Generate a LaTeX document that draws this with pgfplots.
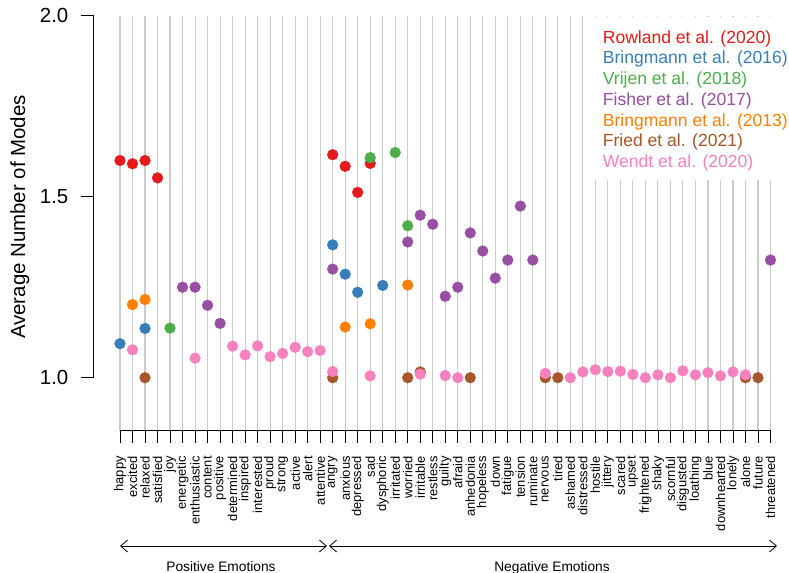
\documentclass[border=0pt]{standalone}
\usepackage{pgfplots}
\pgfplotsset{compat=1.18}
\usepackage{fontspec}
\setmainfont{Liberation Sans}
\usetikzlibrary{arrows.meta}

% ColorBrewer Set1
\definecolor{cRow}{HTML}{E41A1C}
\definecolor{cBr16}{HTML}{377EB8}
\definecolor{cVri}{HTML}{4DAF4A}
\definecolor{cFis}{HTML}{984EA3}
\definecolor{cBr13}{HTML}{FF7F00}
\definecolor{cFri}{HTML}{A65628}
\definecolor{cWen}{HTML}{F781BF}
\definecolor{gridgray}{HTML}{CCCCCC}

\begin{document}
\begin{tikzpicture}[x=1bp,y=1bp]
\useasboundingbox (0,0) rectangle (789,-573);
\begin{axis}[
  at={(93.5bp,-430.7bp)}, anchor=south west,
  scale only axis, width=695.5bp, height=415bp,
  xmin=-2.118, xmax=53.48, ymin=0.8536, ymax=2.0,
  clip=false,
  axis line style={draw=none},
  tick pos=left, tick align=outside,
  major tick length=12.6bp,
  tick style={black, line width=0.8bp},
  xmajorgrids, ymajorgrids=false,
  grid style={gridgray, line width=1.1bp},
  xtick={0,...,52},
  xticklabels={happy,excited,relaxed,satisfied,joy,energetic,enthusiastic,content,positive,determined,inspired,interested,proud,strong,active,alert,attentive,angry,anxious,depressed,sad,dysphoric,irritated,worried,irritable,restless,guilty,afraid,anhedonia,hopeless,down,fatigue,tension,ruminate,nervous,tired,ashamed,distressed,hostile,jittery,scared,upset,frightened,shaky,scornful,disgusted,loathing,blue,downhearted,lonely,alone,future,threatened},
  xticklabel style={rotate=90, anchor=east, inner sep=0pt, font=\fontsize{13}{15}\selectfont},
  xticklabel shift=12.7bp,
  ytick={1,1.5,2}, yticklabels={1.0,1.5,2.0},
  yticklabel style={inner sep=0pt, font=\fontsize{20.5}{24}\selectfont},
  yticklabel shift=12.4bp,
]
% R-style axis lines: y from 1 to 2, x from first to last category
\draw[black, line width=0.8bp] (axis cs:-2.118,1) -- (axis cs:-2.118,2);
\draw[black, line width=0.8bp] (axis cs:0,0.8536) -- (axis cs:52,0.8536);

% Rowland et al. (2020)
\addplot[only marks, mark=*, mark size=5.4, color=cRow] coordinates {
 (0,1.600) (1,1.591) (2,1.600) (3,1.552) (17,1.616) (18,1.584) (19,1.512) (20,1.592)};
% Bringmann et al. (2016)
\addplot[only marks, mark=*, mark size=5.4, color=cBr16] coordinates {
 (0,1.094) (2,1.136) (17,1.367) (18,1.286) (19,1.236) (21,1.255)};
% Vrijen et al. (2018)
\addplot[only marks, mark=*, mark size=5.4, color=cVri] coordinates {
 (4,1.137) (20,1.608) (22,1.622) (23,1.420)};
% Fisher et al. (2017)
\addplot[only marks, mark=*, mark size=5.4, color=cFis] coordinates {
 (5,1.250) (6,1.250) (7,1.200) (8,1.150) (17,1.300) (23,1.375) (24,1.449)
 (25,1.424) (26,1.225) (27,1.250) (28,1.400) (29,1.350) (30,1.275)
 (31,1.325) (32,1.474) (33,1.325) (52,1.325)};
% Bringmann et al. (2013)
\addplot[only marks, mark=*, mark size=5.4, color=cBr13] coordinates {
 (1,1.202) (2,1.216) (18,1.140) (20,1.149) (23,1.256)};
% Fried et al. (2021)
\addplot[only marks, mark=*, mark size=5.4, color=cFri] coordinates {
 (2,1.0) (17,1.0) (23,1.0) (24,1.016) (28,1.0) (34,1.0) (35,1.0) (50,1.0) (51,1.0)};
% Wendt et al. (2020)
\addplot[only marks, mark=*, mark size=5.4, color=cWen] coordinates {
 (1,1.077) (6,1.054) (9,1.087) (10,1.063) (11,1.088) (12,1.058) (13,1.067)
 (14,1.084) (15,1.072) (16,1.075) (17,1.017) (20,1.005) (24,1.010) (26,1.006)
 (27,1.0) (34,1.012) (36,1.0) (37,1.016) (38,1.022) (39,1.017) (40,1.018)
 (41,1.009) (42,1.0) (43,1.008) (44,1.0) (45,1.019) (46,1.008) (47,1.014)
 (48,1.005) (49,1.016) (50,1.008)};
\end{axis}

% legend panel
\fill[white] (583,-17) rectangle (789,-180);
\begin{scope}[every node/.style={anchor=base west, inner sep=0pt, font=\fontsize{17.6}{20}\selectfont}]
\node[text=cRow]  at (602.7,-43.3)  {Rowland et al. (2020)};
\node[text=cBr16] at (602.7,-64.0)  {Bringmann et al. (2016)};
\node[text=cVri]  at (602.7,-84.7)  {Vrijen et al. (2018)};
\node[text=cFis]  at (602.7,-105.4) {Fisher et al. (2017)};
\node[text=cBr13] at (602.7,-126.1) {Bringmann et al. (2013)};
\node[text=cFri]  at (602.7,-146.8) {Fried et al. (2021)};
\node[text=cWen]  at (602.7,-167.5) {Wendt et al. (2020)};
\end{scope}

% y axis title
\node[rotate=90, anchor=base, inner sep=0pt, font=\fontsize{20.5}{24}\selectfont] at (25,-217) {Average Number of Modes};

% group arrows
\draw[{Straight Barb[length=7bp,width=12bp]}-{Straight Barb[length=7bp,width=12bp]}, line width=0.8bp] (120,-546) -- (327,-546);
\draw[{Straight Barb[length=7bp,width=12bp]}-{Straight Barb[length=7bp,width=12bp]}, line width=0.8bp] (329,-546) -- (777,-546);
\node[anchor=base, inner sep=0pt, font=\fontsize{13.8}{16}\selectfont] at (221,-571) {Positive Emotions};
\node[anchor=base, inner sep=0pt, font=\fontsize{13.8}{16}\selectfont] at (552,-571) {Negative Emotions};
\end{tikzpicture}
\end{document}
